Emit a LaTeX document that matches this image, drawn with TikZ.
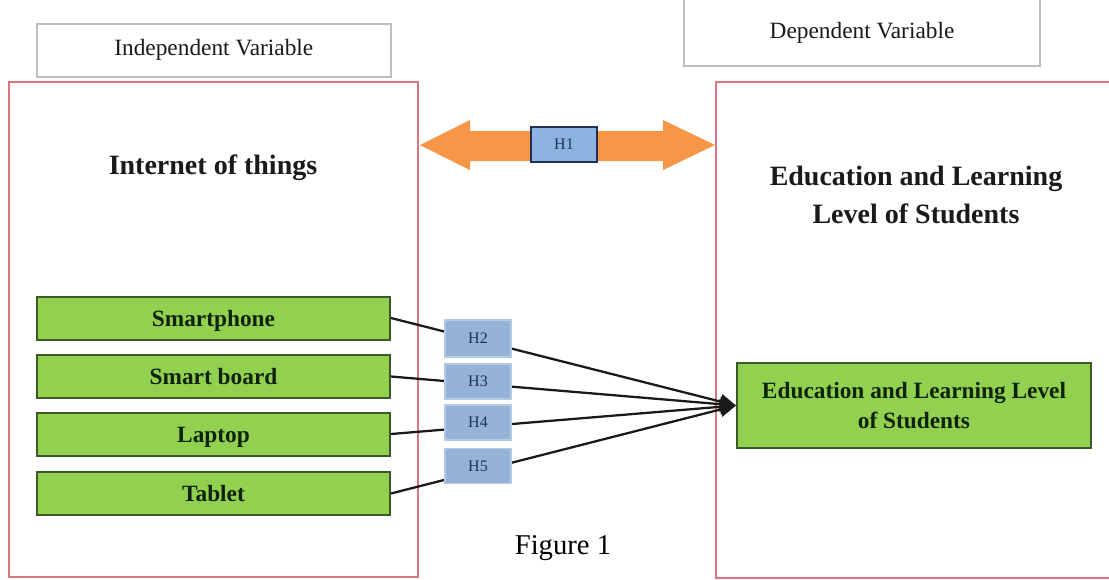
\documentclass[tikz,border=0pt]{standalone}
\usepackage{fontspec}
\setmainfont{Liberation Serif}
\usetikzlibrary{arrows.meta}
\definecolor{redline}{HTML}{D9777C}
\definecolor{grayline}{HTML}{BDBDC4}
\definecolor{greenfill}{HTML}{92D050}
\definecolor{greenline}{HTML}{3C5A28}
\definecolor{orangefill}{HTML}{F79646}
\definecolor{bluefill}{HTML}{8DB3E2}
\definecolor{bluefillb}{HTML}{95B3D7}
\definecolor{blueline}{HTML}{1F3350}
\definecolor{textdark}{HTML}{1A1A1A}
\definecolor{greentext}{HTML}{0E230E}
\tikzset{
  headerbox/.style={draw=grayline, line width=1.2pt, fill=white, text=textdark, font=\fontsize{17.5}{21}\selectfont},
  panelbox/.style={draw=redline, line width=1.2pt},
  greenbox/.style={draw=greenline, line width=1.5pt, fill=greenfill, text=greentext, font=\bfseries\fontsize{17.5}{23}\selectfont, inner sep=0pt},
  itembox/.style={greenbox, minimum width=353*0.75pt, minimum height=43*0.75pt, text height=12.5pt, text depth=0pt},
  hbox/.style={draw=bluefillb!70!white, line width=1pt, fill=bluefillb, text=blueline, font=\fontsize{12}{14}\selectfont, inner sep=0pt},
  titletext/.style={text=textdark, font=\bfseries\fontsize{21}{28}\selectfont, align=center},
  link/.style={line width=1.7pt, draw=black!90, -{Triangle[length=12pt,width=11pt]}}
}
\begin{document}
\begin{tikzpicture}[x=0.75pt,y=-0.75pt]
\clip (0,0) rectangle (1109,579);
\fill[white] (0,0) rectangle (1109,579);
% header boxes
\node[headerbox, minimum width=354*0.75pt, minimum height=53*0.75pt, anchor=north west] (indep) at (36,23) {Independent Variable};
\draw[grayline, line width=1.2pt, fill=white] (684,-5) rectangle (1040,66);
\node[text=textdark, font=\fontsize{17.5}{21}\selectfont] (dep) at (862,33) {Dependent Variable};
% panels
\draw[panelbox] (9,82) rectangle (418,577);
\draw[panelbox] (716,82) rectangle (1120,578);
% titles
\node[titletext] (iot) at (213,168) {Internet of things};
\node[titletext] (elt) at (916,195) {Education and Learning\\Level of Students};
% double arrow
\fill[orangefill] (420,145) -- (470,120) -- (470,131) -- (663,131) -- (663,120) -- (715,145) -- (663,170) -- (663,161) -- (470,161) -- (470,170) -- cycle;
\node[draw=blueline, line width=1pt, fill=bluefill, text=blueline, font=\fontsize{12}{14}\selectfont, minimum width=66*0.75pt, minimum height=35*0.75pt, inner sep=0pt] (h1) at (564,144.5) {H1};
% green boxes
\node[itembox] (sp) at (213.5,318) {Smartphone};
\node[itembox] (sb) at (213.5,376.5) {Smart board};
\node[itembox] (lp) at (213.5,434) {Laptop};
\node[itembox] (tb) at (213.5,493.5) {Tablet};
\node[greenbox, minimum width=354*0.75pt, minimum height=85*0.75pt, align=center] (eb) at (914,405.5) {Education and Learning Level\\of Students};
% connectors
\draw[link] (sp.east) -- (eb.west);
\draw[link] (sb.east) -- (eb.west);
\draw[link] (lp.east) -- (eb.west);
\draw[link] (tb.east) -- (eb.west);
% hypothesis boxes
\node[hbox, minimum width=66*0.75pt, minimum height=37*0.75pt] (h2) at (478,338.5) {H2};
\node[hbox, minimum width=66*0.75pt, minimum height=35*0.75pt] (h3) at (478,381.5) {H3};
\node[hbox, minimum width=66*0.75pt, minimum height=35*0.75pt] (h4) at (478,422.5) {H4};
\node[hbox, minimum width=66*0.75pt, minimum height=35*0.75pt] (h5) at (478,466) {H5};
% caption
\node[text=black, font=\fontsize{21.5}{24}\selectfont] (cap) at (563,548) {Figure 1};
\end{tikzpicture}
\end{document}
